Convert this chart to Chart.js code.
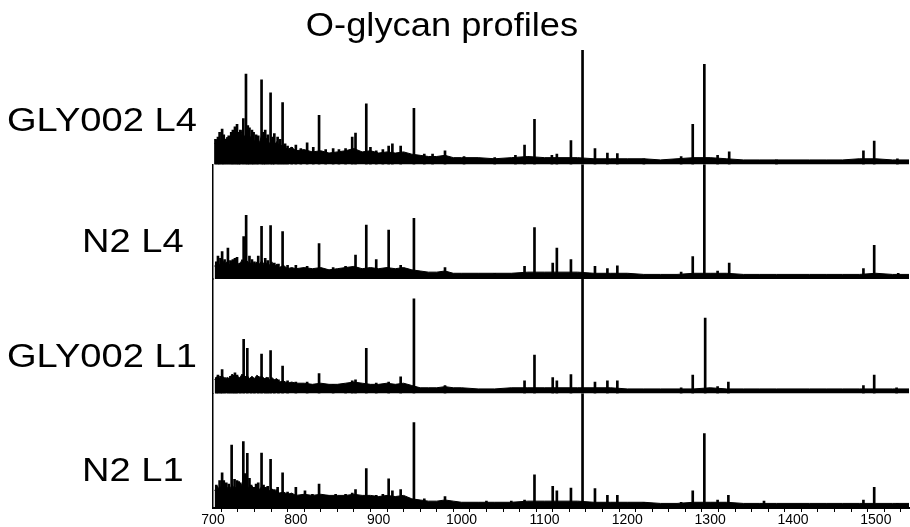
<!DOCTYPE html>
<html>
<head>
<meta charset="utf-8">
<title>O-glycan profiles</title>
<script src="https://cdn.jsdelivr.net/npm/chart.js@4.4.1/dist/chart.umd.min.js"></script>
<style>
  html, body { margin: 0; padding: 0; background: #fff; }
  #chart { display: block; }
</style>
</head>
<body>
<canvas id="chart" width="910" height="527"></canvas>
<script>
// --- Data (m/z on x, relative intensity 0-100 per panel) ---
const chartTitle = 'O-glycan profiles';
const sampleNames = ['GLY002 L4', 'N2 L4', 'GLY002 L1', 'N2 L1'];
const xTicks = [700, 800, 900, 1000, 1100, 1200, 1300, 1400, 1500];

// baseline / noise envelope, sampled at these m/z values
const noiseMz = [702, 705, 708, 711, 714, 717, 720, 723, 726, 729, 732, 735, 738, 741, 744, 747, 750, 753, 756, 759, 762, 765, 768, 771, 774, 777, 780,
  785, 790, 795, 800,
  810, 820, 830, 840, 850, 860, 870, 880, 890, 900, 910, 920, 930, 940, 950, 960, 970, 980, 990, 1000,
  1020, 1040, 1060, 1080, 1100, 1120, 1140, 1160, 1180, 1200, 1220, 1240, 1260, 1280, 1300, 1320, 1340, 1360, 1380, 1400, 1420, 1440, 1460, 1480, 1500, 1520, 1540];

const noiseGly002L4 = [18, 22, 17, 26, 20, 24, 19, 28, 22, 26, 20, 30, 24, 28, 22, 26, 20, 24, 19, 26, 20, 23, 18, 22, 17, 20, 16,
  17, 13, 15, 12,
  13, 11, 12, 10, 11, 12, 14, 11, 12, 10, 11, 10, 11, 9, 8, 7, 7, 8, 6, 6,
  6, 5, 6, 7, 6, 6, 6, 5, 5, 5, 5, 4, 5, 6, 6, 5, 4, 4, 4, 4, 4, 4, 4, 5, 5, 4, 4];
const noiseN2L4 = [11, 15, 12, 17, 13, 15, 12, 16, 13, 15, 12, 17, 14, 16, 13, 15, 12, 15, 13, 16, 12, 14, 12, 15, 11, 13, 10,
  12, 9, 10, 9,
  10, 9, 10, 8, 9, 10, 11, 9, 10, 9, 10, 9, 10, 8, 7, 6, 6, 7, 5, 5,
  5, 5, 5, 6, 6, 6, 6, 5, 5, 5, 4, 4, 4, 5, 5, 5, 4, 4, 4, 4, 4, 4, 4, 4, 5, 4, 4];
const noiseGly002L1 = [12, 15, 13, 16, 12, 14, 13, 17, 14, 16, 13, 17, 14, 16, 13, 15, 13, 16, 14, 15, 13, 14, 12, 14, 12, 13, 10,
  11, 9, 10, 9,
  9, 8, 9, 8, 8, 9, 10, 9, 8, 8, 9, 8, 9, 7, 5, 5, 5, 6, 5, 5,
  4, 4, 5, 5, 5, 5, 5, 5, 5, 4, 4, 4, 4, 4, 5, 4, 4, 4, 4, 4, 4, 4, 4, 4, 4, 4, 4];
const noiseN2L1 = [15, 19, 16, 21, 15, 18, 16, 20, 17, 19, 16, 21, 18, 20, 16, 19, 17, 20, 16, 19, 15, 18, 15, 17, 14, 16, 13,
  14, 12, 13, 11,
  12, 11, 12, 11, 11, 11, 12, 11, 11, 10, 11, 10, 11, 8, 7, 6, 6, 7, 6, 5,
  5, 5, 5, 6, 6, 6, 6, 5, 5, 5, 5, 4, 4, 5, 5, 5, 4, 4, 4, 4, 4, 4, 4, 4, 4, 4, 4];

// peak m/z and heights
const peakMzGly002L4 = [703, 706, 708, 711, 713, 716, 719, 722, 724, 726.5, 729, 731, 733, 736.6, 739.8, 742, 744, 747, 749, 752, 754.6, 758.6, 761, 763, 766, 769.5, 772, 774, 778, 781, 784, 787, 790, 795, 800, 806, 813.6, 821, 828, 836, 845, 852, 860, 868, 872, 885, 890, 897, 905, 912, 916.5, 926.5, 942.5, 955, 965, 980, 1003, 1040, 1065, 1076, 1088, 1109, 1115, 1132, 1146, 1161, 1176, 1188, 1220, 1265, 1279, 1293, 1309, 1323, 1380, 1485, 1498, 1526];
const peakHGly002L4 = [22, 24, 28, 31, 26, 22, 25, 28, 30, 33, 35, 28, 30, 40, 79, 34, 32, 30, 28, 26, 25, 74, 28, 30, 26, 62.5, 24, 27, 24, 22, 54, 18, 16, 15, 17, 14, 19, 15, 43, 13, 14, 13, 14, 24, 27.5, 53, 15, 12, 13, 16, 18, 16, 49, 9, 9, 12, 7, 6, 8, 17, 39.5, 8, 9, 21, 100, 14, 10, 9.5, 5, 7, 35, 87.5, 8, 11, 4, 12, 20.5, 5];

const peakMzN2L4 = [704, 706, 709, 711, 714, 718, 721, 724, 726.5, 729, 733, 737, 740, 744, 747, 750, 754.6, 758.6, 763, 766, 769.5, 774, 779, 784, 790, 800, 813.6, 828, 845, 860, 872, 885, 897, 912, 926.5, 942.5, 980, 1040, 1076, 1088, 1110, 1115, 1132, 1146, 1161, 1176, 1188, 1265, 1279, 1293, 1309, 1323, 1485, 1498, 1527];
const peakHN2L4 = [15, 20, 18, 24, 17, 27, 16, 17, 18, 19, 14, 37, 55.5, 20, 17, 15, 20, 46, 18, 16, 46.7, 14, 13, 41.5, 12, 12, 11, 31, 10, 11, 21, 47, 17, 42.7, 12, 53, 10, 5, 11, 45, 14, 27, 17, 100, 11, 9, 11.5, 6, 19.5, 100, 7, 14, 9, 29.5, 5];

const peakMzGly002L1 = [704, 706, 709, 711, 714, 718, 721, 724, 726.5, 729, 733, 737, 741.4, 746, 750, 754.6, 758.6, 763, 766, 769.5, 774, 779, 784, 790, 800, 813.6, 828, 845, 860, 868, 872, 885, 897, 912, 926.5, 942.5, 980, 1076, 1088, 1110, 1115, 1132, 1146, 1161, 1176, 1188, 1265, 1279, 1294, 1309, 1322, 1485, 1498, 1525];
const peakHGly002L1 = [14, 16, 15, 21, 14, 13, 15, 16, 18, 16, 14, 47.4, 39.5, 13, 12, 15, 34.5, 13, 14, 37.4, 12, 12, 24, 11, 10, 10, 17.5, 8, 8, 11, 12, 39.5, 9, 10, 14.6, 82.7, 7, 11, 33.6, 14, 11, 16.6, 100, 10, 11, 11, 5, 16, 65.8, 6, 10, 7, 16, 5];

const peakMzN2L1 = [704, 708, 711, 713, 716, 719, 722.5, 726, 729, 731, 733, 736.6, 739, 741.4, 744, 746, 750, 752, 754.6, 758.6, 761, 763, 766, 769.5, 774, 778, 784, 790, 800, 811, 820, 828, 838, 848, 860, 868, 872, 885, 897, 905, 912, 916.5, 926.5, 942.5, 955, 980, 1030, 1060, 1076, 1088, 1110, 1115, 1132, 1146, 1161, 1176, 1188, 1220, 1265, 1279, 1293, 1309, 1322, 1365, 1485, 1498, 1526];
const peakHN2L1 = [20, 24, 30.7, 24, 22, 21, 55, 25, 24, 23, 22, 58, 30, 47.7, 26, 20, 18, 21, 22, 48, 20, 18, 19, 42.4, 16, 18, 30.7, 14, 18, 15, 12, 21, 11, 12, 12, 13, 16, 34.5, 11, 12, 25.4, 15, 16, 74.6, 8, 10, 6, 6, 7, 29, 19, 15, 17.5, 100, 17, 11, 11, 5, 5, 15, 65, 7, 11, 6, 7, 18, 4];

// --- Build library datasets from the arrays ---
const panelIds = ['p1', 'p2', 'p3', 'p4'];
const noiseSets = [noiseGly002L4, noiseN2L4, noiseGly002L1, noiseN2L1];
const peakMzSets = [peakMzGly002L4, peakMzN2L4, peakMzGly002L1, peakMzN2L1];
const peakHSets = [peakHGly002L4, peakHN2L4, peakHGly002L1, peakHN2L1];

const datasets = [];
panelIds.forEach((id, i) => {
    datasets.push({
        type: 'line',
        label: sampleNames[i] + ' baseline',
        data: noiseMz.map((mz, k) => ({ x: mz, y: noiseSets[i][k] })),
        yAxisID: id,
        borderColor: '#000',
        backgroundColor: '#000',
        borderWidth: 1,
        pointRadius: 0,
        tension: 0,
        fill: 'origin'
    });
    datasets.push({
        type: 'bar',
        label: sampleNames[i],
        data: peakMzSets[i].map((mz, k) => ({ x: mz, y: peakHSets[i][k] })),
        yAxisID: id,
        backgroundColor: '#000',
        borderWidth: 0,
        barThickness: 2,
        grouped: false
    });
});

const panelScale = (showBorder) => ({
    type: 'linear',
    position: 'left',
    stack: 'spectra',
    stackWeight: 1,
    min: 0,
    max: 100,
    ticks: { display: false },
    grid: { display: false },
    border: { display: showBorder, color: '#000', width: 1.5 }
});

// title + sample names drawn as text on the canvas
const textPlugin = {
    id: 'panelText',
    afterDraw(chart) {
        const ctx = chart.ctx;
        const drawStretched = (text, x, y, sx, align) => {
            ctx.save();
            ctx.translate(x, y);
            ctx.scale(sx, 1);
            ctx.textAlign = align;
            ctx.fillText(text, 0, 0);
            ctx.restore();
        };
        ctx.save();
        ctx.fillStyle = '#000';
        ctx.textBaseline = 'alphabetic';
        ctx.font = '33px "Liberation Sans", Arial, sans-serif';
        drawStretched(chartTitle, 442, 36, 1.1, 'center');
        ctx.font = '34px "Liberation Sans", Arial, sans-serif';
        const labelPos = [[7, 131], [82, 252], [7, 367], [82, 481]];
        sampleNames.forEach((name, i) => {
            drawStretched(name, labelPos[i][0], labelPos[i][1], 1.12, 'left');
        });
        ctx.restore();
    }
};

new Chart(document.getElementById('chart'), {
    type: 'bar',
    data: { datasets },
    options: {
        responsive: false,
        animation: false,
        devicePixelRatio: 1,
        layout: { padding: { left: 205, right: 0, top: 50, bottom: -1 } },
        plugins: { legend: { display: false }, tooltip: { enabled: false }, title: { display: false } },
        scales: {
            x: {
                type: 'linear',
                position: 'bottom',
                min: 700,
                max: 1540,
                offset: false,
                ticks: {
                    stepSize: 20,
                    autoSkip: false,
                    maxRotation: 0,
                    padding: 1,
                    color: '#000',
                    font: { family: '"Liberation Sans", Arial, sans-serif', size: 14, lineHeight: 1 },
                    callback: (v) => xTicks.includes(v) ? String(v) : ''
                },
                grid: { display: true, drawOnChartArea: false, drawTicks: true, tickLength: 4, color: '#000', lineWidth: 1 },
                border: { display: true, color: '#000', width: 2 }
            },
            // stacked axes are laid out bottom-up, so the bottom panel comes first
            p4: panelScale(true),
            p3: panelScale(true),
            p2: panelScale(true),
            p1: panelScale(false)
        }
    },
    plugins: [textPlugin]
});
</script>
</body>
</html>
